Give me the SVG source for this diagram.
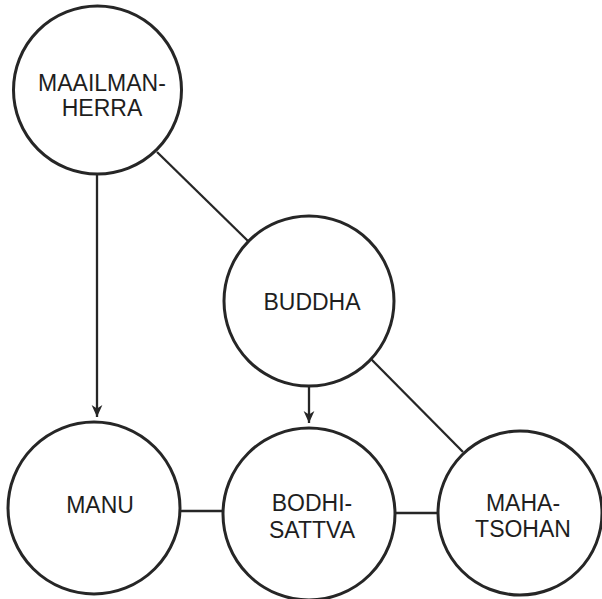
<svg xmlns="http://www.w3.org/2000/svg" width="602" height="599" viewBox="0 0 602 599">
<defs>
<style>
.node circle{fill:#fff;stroke:#262626;stroke-width:3}
.node text{font-family:"Liberation Sans",Arial,sans-serif;font-size:23px;fill:#1e1e1e;text-anchor:middle}
.conn line{stroke:#262626;stroke-width:2.3}
</style>
<marker id="arr" viewBox="0 0 10 10" refX="10" refY="5" markerWidth="12" markerHeight="12" markerUnits="userSpaceOnUse" orient="auto">
<path d="M0,0.5 L10,5 L0,9.5 L3,5 Z" fill="#262626"/>
</marker>
</defs>
<rect width="602" height="599" fill="#fff"/>
<g id="connectors" class="conn">
<line x1="97" y1="175" x2="97" y2="417" marker-end="url(#arr)"/>
<line x1="157" y1="152" x2="248" y2="241"/>
<line x1="309" y1="387" x2="309" y2="423" marker-end="url(#arr)"/>
<line x1="371" y1="359" x2="463" y2="452"/>
<line x1="180" y1="511" x2="224" y2="511"/>
<line x1="395" y1="513" x2="438" y2="513"/>
</g>
<g id="maailmanherra" class="node">
<circle cx="97.5" cy="90" r="84"/>
<text x="102" y="91">MAAILMAN-</text>
<text x="102" y="116">HERRA</text>
</g>
<g id="buddha" class="node">
<circle cx="309" cy="301" r="85"/>
<text x="312" y="310">BUDDHA</text>
</g>
<g id="manu" class="node">
<circle cx="94" cy="508" r="86"/>
<text x="100" y="513">MANU</text>
</g>
<g id="bodhisattva" class="node">
<circle cx="309" cy="514" r="86"/>
<text x="312" y="511">BODHI-</text>
<text x="312" y="538">SATTVA</text>
</g>
<g id="mahatsohan" class="node">
<circle cx="520" cy="513" r="82"/>
<text x="523" y="511">MAHA-</text>
<text x="523" y="537">TSOHAN</text>
</g>
</svg>
